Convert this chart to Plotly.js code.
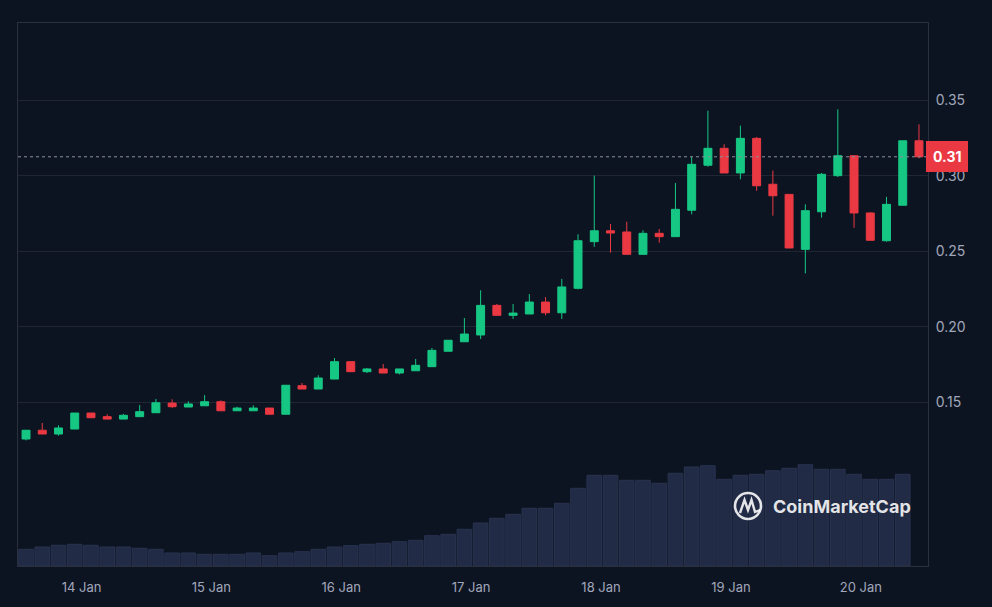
<!DOCTYPE html>
<html>
<head>
<meta charset="utf-8">
<script src="https://cdn.plot.ly/plotly-3.0.1.min.js"></script>
<style>
html,body{margin:0;padding:0;background:#0d1421;}
#chart{width:992px;height:607px;}
</style>
</head>
<body>
<div id="chart"></div>
<script>
// 3-hour candles
const times = [
'2024-01-13 13:45','2024-01-13 16:45','2024-01-13 19:45','2024-01-13 22:45',
'2024-01-14 01:45','2024-01-14 04:45','2024-01-14 07:45','2024-01-14 10:45','2024-01-14 13:45','2024-01-14 16:45','2024-01-14 19:45','2024-01-14 22:45',
'2024-01-15 01:45','2024-01-15 04:45','2024-01-15 07:45','2024-01-15 10:45','2024-01-15 13:45','2024-01-15 16:45','2024-01-15 19:45','2024-01-15 22:45',
'2024-01-16 01:45','2024-01-16 04:45','2024-01-16 07:45','2024-01-16 10:45','2024-01-16 13:45','2024-01-16 16:45','2024-01-16 19:45','2024-01-16 22:45',
'2024-01-17 01:45','2024-01-17 04:45','2024-01-17 07:45','2024-01-17 10:45','2024-01-17 13:45','2024-01-17 16:45','2024-01-17 19:45','2024-01-17 22:45',
'2024-01-18 01:45','2024-01-18 04:45','2024-01-18 07:45','2024-01-18 10:45','2024-01-18 13:45','2024-01-18 16:45','2024-01-18 19:45','2024-01-18 22:45',
'2024-01-19 01:45','2024-01-19 04:45','2024-01-19 07:45','2024-01-19 10:45','2024-01-19 13:45','2024-01-19 16:45','2024-01-19 19:45','2024-01-19 22:45',
'2024-01-20 01:45','2024-01-20 04:45','2024-01-20 07:45','2024-01-20 10:45'
];
const openPrices = [
0.1257,0.1315,0.1290,0.1323,0.1429,0.1405,0.1389,0.1405,0.1431,0.1495,
0.1469,0.1477,0.1504,0.1444,0.1444,0.1462,0.1421,0.1610,0.1588,0.1654,
0.1769,0.1703,0.1721,0.1694,0.1709,0.1736,0.1838,0.1901,0.1946,0.2142,
0.2076,0.2085,0.2164,0.2093,0.2255,0.2564,0.2636,0.2628,0.2480,0.2619,
0.2597,0.2772,0.3070,0.3182,0.3019,0.3248,0.2944,0.2877,0.2513,0.2762,
0.3001,0.3133,0.2754,0.2570,0.2805,0.3232
];
const closePrices = [
0.1315,0.1290,0.1330,0.1429,0.1398,0.1389,0.1414,0.1438,0.1497,0.1471,
0.1489,0.1504,0.1444,0.1462,0.1462,0.1421,0.1613,0.1588,0.1661,0.1769,
0.1703,0.1721,0.1694,0.1721,0.1745,0.1844,0.1911,0.1952,0.2142,0.2076,
0.2091,0.2164,0.2093,0.2264,0.2570,0.2636,0.2621,0.2480,0.2619,0.2597,
0.2778,0.3076,0.3182,0.3019,0.3248,0.2934,0.2868,0.2522,0.2769,0.3010,
0.3133,0.2754,0.2573,0.2811,0.3232,0.3126
];
const highPrices = [
0.1315,0.1363,0.1348,0.1429,0.1429,0.1421,0.1423,0.1482,0.1522,0.1520,
0.1507,0.1548,0.1513,0.1471,0.1480,0.1462,0.1613,0.1628,0.1679,0.1793,
0.1769,0.1727,0.1754,0.1721,0.1787,0.1860,0.1911,0.2058,0.2242,0.2151,
0.2151,0.2217,0.2197,0.2317,0.2613,0.3001,0.2681,0.2696,0.2639,0.2648,
0.2952,0.3125,0.3431,0.3209,0.3332,0.3257,0.3034,0.2877,0.2811,0.3019,
0.3440,0.3133,0.2760,0.2860,0.3232,0.3341
];
const lowPrices = [
0.1248,0.1290,0.1279,0.1323,0.1398,0.1389,0.1389,0.1405,0.1431,0.1462,
0.1469,0.1477,0.1444,0.1444,0.1444,0.1421,0.1421,0.1588,0.1588,0.1654,
0.1703,0.1694,0.1694,0.1685,0.1709,0.1736,0.1838,0.1901,0.1919,0.2076,
0.2052,0.2085,0.2076,0.2052,0.2248,0.2530,0.2491,0.2480,0.2480,0.2557,
0.2597,0.2745,0.3060,0.3019,0.2977,0.2901,0.2736,0.2522,0.2354,0.2723,
0.2992,0.2656,0.2573,0.2564,0.2805,0.3116
];
// volume (millions), last candle has no bar yet
const volumeM = [
16.7,19,20.7,21.7,20.7,19,19,17.7,16.7,13,
13,11.7,11.7,11.7,13,10.3,13,14.3,16.7,19,
20.3,21.7,22.7,24.3,25.7,30.3,31.7,36.7,43,47.7,
51.7,57.7,57.7,62.7,77.7,90.7,90.7,85.7,85.7,82.7,
92.7,99,100.3,86.7,90.7,91.7,95.3,97.7,101.3,96.7,
96.7,91.7,86.7,86.7,91.7
];
const priceTicks = [0.15, 0.20, 0.25, 0.30, 0.35];
const priceTickText = ['0.15', '0.20', '0.25', '0.30', '0.35'];
const currentLabel = '0.31';
const watermark = 'CoinMarketCap';

const lastClose = closePrices[closePrices.length - 1];
const GREEN = '#16c784', RED = '#ea3943';
const FONT = 'Inter, "Noto Sans", "DejaVu Sans", sans-serif';

const volTrace = {
  type: 'bar',
  x: times.slice(0, volumeM.length),
  y: volumeM,
  yaxis: 'y',
  marker: {color: '#222b45', line: {color: '#28324f', width: 1}},
  hoverinfo: 'skip'
};
const candleTrace = {
  type: 'candlestick',
  x: times,
  open: openPrices, high: highPrices, low: lowPrices, close: closePrices,
  yaxis: 'y2',
  increasing: {line: {color: GREEN, width: 1}, fillcolor: GREEN},
  decreasing: {line: {color: RED, width: 1}, fillcolor: RED},
  whiskerwidth: 0,
  hoverinfo: 'skip'
};

// paper coords helpers for the watermark logo (plot area 18..928 x 23..566)
const px = v => (v - 18) / 910;
const py = v => (566 - v) / 543;

const layout = {
  width: 992, height: 607,
  margin: {l: 18, r: 64, t: 23, b: 41},
  paper_bgcolor: '#0d1421',
  plot_bgcolor: '#0d1421',
  showlegend: false,
  bargap: 0.1,
  boxgap: 0.3,
  font: {family: FONT, color: '#a1a7bb'},
  xaxis: {
    type: 'date',
    range: ['2024-01-13 12:16', '2024-01-20 12:25'],
    rangeslider: {visible: false},
    dtick: 86400000,
    tick0: '2024-01-14 00:00',
    tickformat: '%-d %b',
    showgrid: false,
    zeroline: false,
    showline: true, mirror: true,
    linecolor: '#2b303d', linewidth: 1,
    ticks: '',
    ticklabelstandoff: 9,
    tickfont: {size: 13, color: '#a1a7bb', family: FONT}
  },
  yaxis: {
    range: [0, 543],
    visible: false,
    fixedrange: true
  },
  yaxis2: {
    overlaying: 'y',
    side: 'right',
    range: [0.0416, 0.4012],
    tickvals: priceTicks,
    ticktext: priceTickText,
    showgrid: true,
    gridcolor: '#222633', gridwidth: 1,
    zeroline: false,
    showline: true, mirror: true,
    linecolor: '#2b303d', linewidth: 1,
    ticks: '',
    ticklabelstandoff: 4,
    tickfont: {size: 14, color: '#a1a7bb', family: FONT}
  },
  shapes: [
    {type: 'line', xref: 'paper', yref: 'y2', x0: 0, x1: 1, y0: lastClose, y1: lastClose,
     line: {color: '#8b909c', width: 1, dash: 'dot'}},
    {type: 'circle', xref: 'paper', yref: 'paper', x0: px(735), x1: px(761), y0: py(519), y1: py(493),
     line: {color: 'rgba(255,255,255,0.88)', width: 2.6}},
    {type: 'path', xref: 'paper', yref: 'paper',
     path: 'M ' + px(740) + ',' + py(513) + ' L ' + px(744.5) + ',' + py(500) + ' L ' + px(748) + ',' + py(510) +
           ' L ' + px(751.5) + ',' + py(500) + ' L ' + px(755) + ',' + py(512) + ' L ' + px(760) + ',' + py(510),
     line: {color: 'rgba(255,255,255,0.88)', width: 2.4}}
  ],
  annotations: [
    {xref: 'paper', yref: 'y2', x: 1, y: lastClose, xanchor: 'left', yanchor: 'middle', xshift: -2,
     text: '<b>' + currentLabel + '</b>', showarrow: false,
     font: {size: 14, color: '#ffffff', family: FONT},
     bgcolor: RED, bordercolor: RED, borderwidth: 1, borderpad: 6},
    {xref: 'paper', yref: 'paper', x: px(771), y: py(507), xanchor: 'left', yanchor: 'middle',
     text: '<b>' + watermark + '</b>', showarrow: false,
     font: {size: 18, color: 'rgba(255,255,255,0.88)', family: FONT}}
  ]
};

Plotly.newPlot('chart', [volTrace, candleTrace], layout, {staticPlot: true, displayModeBar: false});
</script>
</body>
</html>
